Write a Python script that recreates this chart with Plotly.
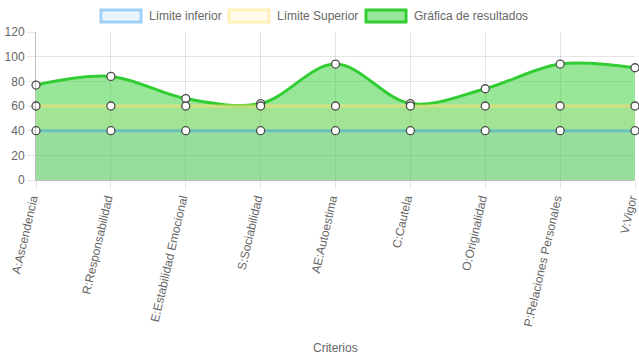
import plotly.graph_objects as go

categorias = ["A:Ascendencia", "R:Responsabilidad", "E:Estabilidad Emocional",
              "S:Sociabilidad", "AE:Autoestima", "C:Cautela", "O:Originalidad",
              "P:Relaciones Personales", "V:Vigor"]
limite_inferior = [40, 40, 40, 40, 40, 40, 40, 40, 40]
limite_superior = [60, 60, 60, 60, 60, 60, 60, 60, 60]
resultados = [77, 84, 66, 62, 94, 62, 74, 94, 91]
y_ticks = [0, 20, 40, 60, 80, 100, 120]
series_names = ["Límite inferior", "Límite Superior", "Gráfica de resultados"]

FONT = "Liberation Sans, Helvetica, Arial, sans-serif"
W, H = 639, 360
L, R, T, B = 36, 4, 32, 180
marker = dict(size=8, color="white", line=dict(color="rgba(60,60,60,0.9)", width=1.3))

fills = ["rgba(54,162,235,0.1)", "rgba(255,220,110,0.1)", "rgba(50,205,50,0.5)"]
borders = ["rgba(54,162,235,0.45)", "rgba(255,225,120,0.6)", "rgb(50,205,50)"]

fig = go.Figure()
fig.add_trace(go.Scatter(
    x=categorias, y=resultados, name=series_names[2],
    mode="lines+markers", fill="tozeroy", fillcolor=fills[2],
    line=dict(color=borders[2], width=3, shape="spline", smoothing=1.0),
    marker=marker, cliponaxis=False))
fig.add_trace(go.Scatter(
    x=categorias, y=limite_superior, name=series_names[1],
    mode="lines+markers", fill="tozeroy", fillcolor=fills[1],
    line=dict(color=borders[1], width=3),
    marker=marker, cliponaxis=False))
fig.add_trace(go.Scatter(
    x=categorias, y=limite_inferior, name=series_names[0],
    mode="lines+markers", fill="tozeroy", fillcolor=fills[0],
    line=dict(color=borders[0], width=3),
    marker=marker, cliponaxis=False))

# manual legend (Chart.js-style boxes), positions in pixels converted to paper coords
pw, ph = W - L - R, H - T - B
def px(x):
    return (x - L) / pw
def py(y):
    return (H - B - y) / ph

box_x = [101, 229, 366]
legend_fill = ["rgba(235,245,253,1)", "rgba(255,252,238,1)", "rgba(152,230,152,1)"]
legend_border = ["rgba(160,208,245,1)", "rgba(255,240,185,1)", "rgb(50,205,50)"]
shapes = []
annotations = []
for i, name in enumerate(series_names):
    shapes.append(dict(type="rect", xref="paper", yref="paper",
                       x0=px(box_x[i]), x1=px(box_x[i] + 40), y0=py(22), y1=py(10),
                       fillcolor=legend_fill[i], line=dict(color=legend_border[i], width=3)))
    annotations.append(dict(text=name, xref="paper", yref="paper",
                            x=px(box_x[i] + 46), y=py(16), xanchor="left", yanchor="middle",
                            showarrow=False, font=dict(size=12, color="#666")))
annotations.append(dict(text="Criterios", xref="paper", yref="paper", x=0.5, y=py(348),
                        xanchor="center", yanchor="middle", showarrow=False,
                        font=dict(size=12, color="#666")))

fig.update_layout(
    width=W, height=H,
    margin=dict(l=L, r=R, t=T, b=B, autoexpand=False),
    paper_bgcolor="white", plot_bgcolor="white",
    font=dict(family=FONT, size=12, color="#666"),
    showlegend=False,
    xaxis=dict(range=[0, 8], showgrid=True, gridcolor="rgba(0,0,0,0.1)",
               ticks="outside", ticklen=8, tickcolor="rgba(0,0,0,0.1)",
               tickangle=-77, showline=True, linecolor="rgba(0,0,0,0.25)",
               ticklabelshift=-4, ticklabelstandoff=-2,
               tickfont=dict(size=12, color="#666"), automargin=False, zeroline=False),
    yaxis=dict(range=[0, 120], tickvals=y_ticks, showgrid=True, gridcolor="rgba(0,0,0,0.1)",
               ticks="outside", ticklen=8, tickcolor="rgba(0,0,0,0.1)",
               showline=True, linecolor="rgba(0,0,0,0.25)", zeroline=False,
               tickfont=dict(size=12, color="#666"), automargin=False),
    shapes=shapes,
    annotations=annotations,
)
fig.write_html("out.html", config={"displayModeBar": False},
               post_script="document.body.style.margin='0';document.body.style.overflow='hidden';")
